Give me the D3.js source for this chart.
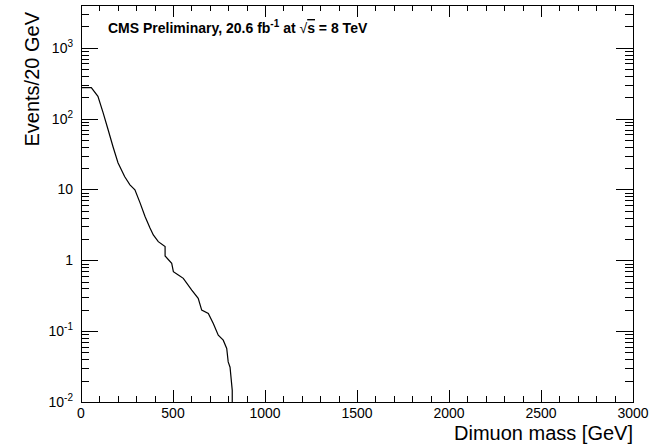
<!DOCTYPE html>
<html>
<head>
<meta charset="utf-8">
<script src="https://cdn.jsdelivr.net/npm/d3@7"></script>
<style>
  body { margin: 0; background: #fff; }
  text { font-family: "Liberation Sans", Arial, sans-serif; fill: #000; }
</style>
</head>
<body>
<div id="main"></div>
<script>
// dimuon mass spectrum
var masses = [0, 56, 92, 120, 147, 174, 201, 237, 266, 293, 321, 348, 375, 393, 420, 457, 457,
              493, 502, 529, 556, 602, 637, 656, 692, 719, 746, 773, 792, 800, 810, 822, 822];
var events = [273, 273, 206, 121, 70, 40, 23.8, 15.2, 11.6, 9.87, 6.46, 4.14, 2.86, 2.28, 1.83, 1.56, 1.15,
              0.907, 0.69, 0.62, 0.556, 0.38, 0.29, 0.198, 0.178, 0.128, 0.0877, 0.0746, 0.0569, 0.0368, 0.031, 0.0146, 0.01];

var xTickLabels = [0, 500, 1000, 1500, 2000, 2500, 3000];
var yTickExps = [-2, -1, 0, 1, 2, 3];

var winW = 662, winH = 448;
var fLeft = 81, fRight = 633, fTop = 5, fBottom = 402; // frame edges

var svg = d3.select('#main').append('svg')
  .attr('width', winW)
  .attr('height', winH);

svg.append('rect').attr('width', winW).attr('height', winH).attr('fill', 'white');

var x = d3.scaleLinear().domain([0, 3000]).range([fLeft, fRight]);
var y = d3.scaleLog().domain([0.01, 4000]).range([fBottom, fTop]);

// frame
svg.append('rect')
  .attr('x', fLeft + 0.5).attr('y', fTop + 0.5)
  .attr('width', fRight - fLeft).attr('height', fBottom - fTop)
  .attr('fill', 'none').attr('stroke', 'black').attr('stroke-width', 1);

// x ticks (bottom and top), every 100, major every 500
var xt = d3.range(0, 3001, 100);
var g = svg.append('g').attr('stroke', 'black').attr('stroke-width', 1);
xt.forEach(function(v) {
  var len = (v % 500 === 0) ? 12 : 6;
  var px = Math.round(x(v)) + 0.5;
  g.append('line').attr('x1', px).attr('x2', px).attr('y1', fBottom).attr('y2', fBottom - len);
  g.append('line').attr('x1', px).attr('x2', px).attr('y1', fTop).attr('y2', fTop + len);
});

// y ticks (left and right), decades + minor 2..9
var yt = [];
for (var e = -2; e <= 3; e++) {
  for (var k = 1; k <= 9; k++) {
    var v = k * Math.pow(10, e);
    if (v <= 4000) yt.push({v: v, major: k === 1});
  }
}
yt.forEach(function(d) {
  var len = d.major ? 17 : 8;
  var py = Math.round(y(d.v)) + 0.5;
  g.append('line').attr('x1', fLeft).attr('x2', fLeft + len).attr('y1', py).attr('y2', py);
  g.append('line').attr('x1', fRight).attr('x2', fRight - len).attr('y1', py).attr('y2', py);
});

// x tick labels
svg.append('g').selectAll('text').data(xTickLabels).enter().append('text')
  .attr('x', function(d) { return x(d); })
  .attr('y', 418)
  .attr('text-anchor', 'middle')
  .attr('font-size', 14)
  .text(function(d) { return d; });

// y tick labels
var yl = svg.append('g').selectAll('text').data(yTickExps).enter().append('text')
  .attr('x', 73)
  .attr('y', function(d) { return y(Math.pow(10, d)) + 5; })
  .attr('text-anchor', 'end')
  .attr('font-size', 14);
yl.each(function(d) {
  var t = d3.select(this);
  if (d === 0) t.text('1');
  else if (d === 1) t.text('10');
  else {
    t.append('tspan').text('10');
    t.append('tspan').attr('dy', -6).attr('font-size', 10).text(d);
  }
});

// curve
var line = d3.line()
  .x(function(d, i) { return x(masses[i]); })
  .y(function(d) { return y(d); });

svg.append('path')
  .datum(events)
  .attr('d', line)
  .attr('fill', 'none')
  .attr('stroke', 'black')
  .attr('stroke-width', 1.2);

// axis titles
svg.append('text')
  .attr('x', fRight).attr('y', 440)
  .attr('text-anchor', 'end')
  .attr('font-size', 20)
  .text('Dimuon mass [GeV]');

svg.append('text')
  .attr('transform', 'translate(39,' + fTop + ') rotate(-90)')
  .attr('x', -7).attr('y', 0)
  .attr('text-anchor', 'end')
  .attr('font-size', 20)
  .text('Events/20 GeV');

// header label
var hdr = svg.append('text')
  .attr('x', 108).attr('y', 33)
  .attr('font-size', 14)
  .attr('font-weight', 'bold');
hdr.append('tspan').text('CMS Preliminary, 20.6 fb');
hdr.append('tspan').attr('dy', -6).attr('font-size', 10).text('-1');
hdr.append('tspan').attr('dy', 6).text(' at ');
hdr.append('tspan').attr('font-weight', 'normal').text('√');
hdr.append('tspan').attr('text-decoration', 'overline').text('s');
hdr.append('tspan').text(' = 8 TeV');
</script>
</body>
</html>
